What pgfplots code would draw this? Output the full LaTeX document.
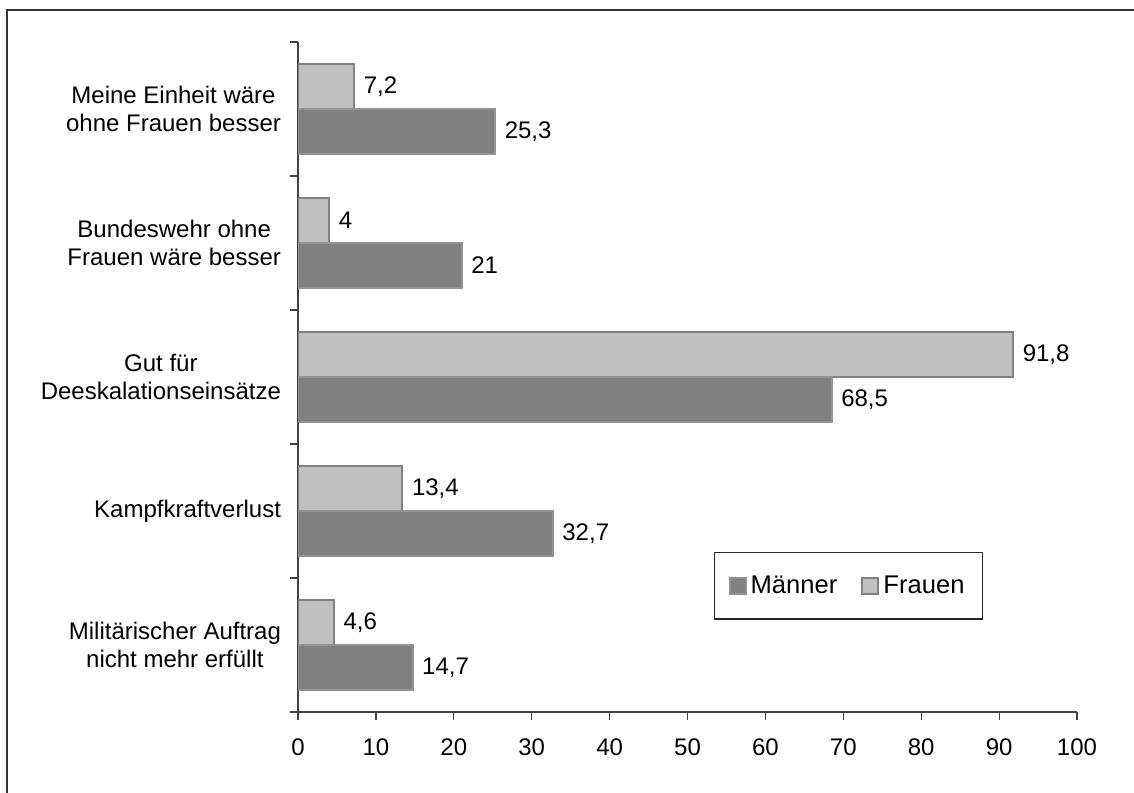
\documentclass[border=0pt]{standalone}
\usepackage{pgfplots}
\pgfplotsset{compat=1.18}
\usepackage{fontspec}
\setmainfont{Liberation Sans}

\definecolor{dunkel}{HTML}{808080}
\definecolor{dunkelrand}{HTML}{939393}
\definecolor{hell}{HTML}{C0C0C0}
\definecolor{hellrand}{HTML}{808080}

\begin{document}
\begin{tikzpicture}[x=1pt,y=1pt]
  \useasboundingbox (0,0) rectangle (567,396);
  % outer frame (only left and top edge lie inside the picture)
  \draw[black!80, line width=0.8pt] (3.6,-2) -- (3.6,391) -- (570,391);

  \begin{axis}[
      at={(149pt,40pt)}, anchor=south west,
      scale only axis,
      width=389.5pt, height=335pt,
      xbar,
      xmin=0, xmax=100,
      ymin=-0.5, ymax=4.5,
      xtick={0,10,...,100},
      ytick={-0.5,0.5,...,4.5},
      yticklabels={},
      extra y ticks={0,1,2,3,4},
      extra y tick labels={{Militärischer Auftrag\\nicht mehr erfüllt},
                           Kampfkraftverlust,
                           {Gut für\\Deeskalationseinsätze},
                           {Bundeswehr ohne\\Frauen wäre besser},
                           {Meine Einheit wäre\\ohne Frauen besser}},
      extra y tick style={major tick length=0pt,
        yticklabel style={align=center, font=\fontsize{12}{14}\selectfont, xshift=-5pt}},
      axis x line*=bottom,
      axis y line*=left,
      axis line style={black!75, line width=0.6pt},
      every tick/.style={black!75, line width=0.6pt},
      tick align=outside,
      major tick length=4pt,
      tick label style={font=\fontsize{12}{14}\selectfont},
      xticklabel style={yshift=-6pt},
      /pgf/number format/assume math mode=true,
      bar width=0.336,
      nodes near coords,
      every node near coord/.append style={font=\fontsize{12}{14}\selectfont,
        anchor=west, xshift=1pt, black,
        /pgf/number format/use comma},
      legend columns=2,
      legend style={at={(0.534,0.239)}, anchor=north west,
        draw=black!85, line width=0.6pt,
        inner xsep=7pt, inner ysep=9.5pt,
        font=\fontsize{12.8}{14}\selectfont,
        /tikz/every even column/.append style={column sep=10pt}},
      legend image code/.code={%
        \draw[#1, line width=1pt] (0pt,-4pt) rectangle (8pt,4pt);},
      reverse legend,
    ]
    % Frauen (upper bar of each group)
    \addplot[fill=hell, draw=hellrand, line width=1pt, bar shift=0.168]
      coordinates {(4.6,0) (13.4,1) (91.8,2) (4,3) (7.2,4)};
    % Maenner (lower bar)
    \addplot[fill=dunkel, draw=dunkelrand, line width=1pt, bar shift=-0.168]
      coordinates {(14.7,0) (32.7,1) (68.5,2) (21,3) (25.3,4)};
    \legend{Frauen, Männer}
  \end{axis}
\end{tikzpicture}
\end{document}
